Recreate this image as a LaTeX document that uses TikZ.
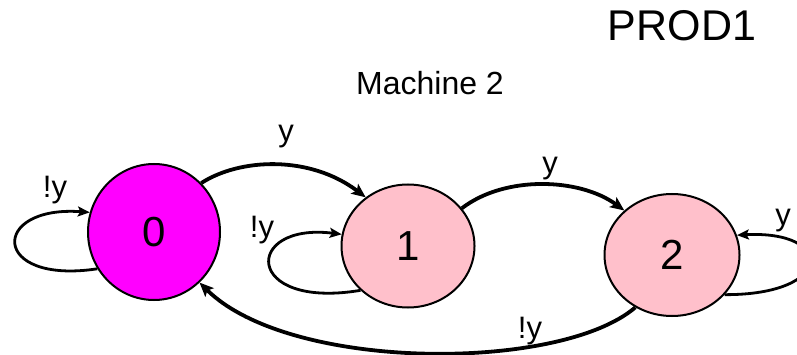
\documentclass[tikz,border=0pt]{standalone}
\usepackage{fontspec}
\setmainfont{Liberation Sans}
\usepackage{tikz}
\usetikzlibrary{shapes.geometric, arrows.meta, positioning}
\definecolor{stMagenta}{RGB}{255,0,255}
\definecolor{stPink}{RGB}{255,192,203}
\tikzset{
  stateM/.style={ellipse, draw=black, fill=stMagenta, line width=2pt,
                 inner sep=0pt, font=\fontsize{42}{42}\selectfont},
  stateP/.style={ellipse, draw=black, fill=stPink, line width=2pt,
                 inner sep=0pt, font=\fontsize{42}{42}\selectfont},
  edgeT/.style={draw=black, line width=3.8pt,
                -{Stealth[length=14pt,width=12pt,inset=3pt]}},
  loopE/.style={draw=black, line width=2.8pt,
                -{Stealth[length=12pt,width=10pt,inset=2.5pt]}},
  lbl/.style={font=\fontsize{31}{31}\selectfont, inner sep=0pt},
}

\begin{document}
\begin{tikzpicture}[x=1pt, y=-1pt]
    \useasboundingbox (0,0) rectangle (797,355);
    \clip (0,0) rectangle (797,355);
    % states
    \node[stateM, minimum width=132pt, minimum height=136pt] (s0) at (154,232) {0};
    \node[stateP, minimum width=133pt, minimum height=123pt] (s1) at (408,246) {1};
    \node[stateP, minimum width=135pt, minimum height=122pt] (s2) at (672,255) {2};
    % titles
    \node[font=\fontsize{43}{43}\selectfont, inner sep=0pt] (title) at (682,26) {PROD1};
    \node[font=\fontsize{32}{32}\selectfont, inner sep=0pt] (mach) at (430,83) {Machine 2};
    % transitions
    \draw[edgeT] (s0.46) .. controls (240,158) and (310,155) .. (s1.131);
    \draw[edgeT] (s1.35) .. controls (505,175) and (580,178) .. (s2.137);
    \draw[edgeT] (s2.235) .. controls (560,372) and (290,372) .. (s0.312);
    % self loops
    \draw[loopE] (s0.213) .. controls (-10,285) and (-10,205) .. (s0.163);
    \draw[loopE] (s1.223) .. controls (243,310) and (243,222) .. (s1.170);
    \draw[loopE] (s2.323) .. controls (835,295) and (835,230) .. (s2.17);
    % labels
    \node[lbl] (l01) at (286,137) {y};
    \node[lbl] (l12) at (550,169) {y};
    \node[lbl] (l20) at (530,331) {!y};
    \node[lbl] (l00) at (55,190) {!y};
    \node[lbl] (l11) at (262,230) {!y};
    \node[lbl] (l22) at (783,221) {y};
\end{tikzpicture}
\end{document}
